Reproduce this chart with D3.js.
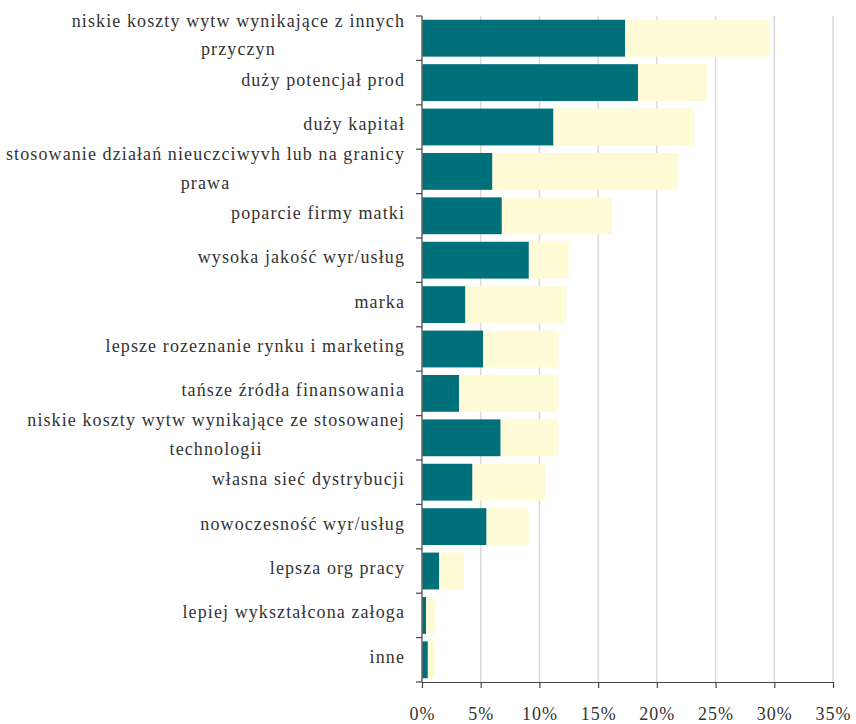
<!DOCTYPE html>
<html>
<head>
<meta charset="utf-8">
<script src="https://cdn.jsdelivr.net/npm/d3@7"></script>
<style>
  body { margin: 0; background: #fff; }
</style>
</head>
<body>
<div id="chart"></div>
<script>
// categories, top to bottom (each entry = lines of the label)
var categories = [
    ["niskie koszty wytw wynikające z innych", "przyczyn"],
    ["duży potencjał prod"],
    ["duży kapitał"],
    ["stosowanie działań nieuczciwyvh lub na granicy", "prawa"],
    ["poparcie firmy matki"],
    ["wysoka jakość wyr/usług"],
    ["marka"],
    ["lepsze rozeznanie rynku i marketing"],
    ["tańsze źródła finansowania"],
    ["niskie koszty wytw wynikające ze stosowanej", "technologii"],
    ["własna sieć dystrybucji"],
    ["nowoczesność wyr/usług"],
    ["lepsza org pracy"],
    ["lepiej wykształcona załoga"],
    ["inne"]
]
var seriesA = [17.3, 18.4, 11.2, 6.0, 6.8, 9.1, 3.7, 5.2, 3.15, 6.7, 4.3, 5.5, 1.45, 0.35, 0.5]
var seriesB = [12.3, 5.9, 12.0, 15.8, 9.4, 3.4, 8.6, 6.4, 8.45, 4.9, 6.2, 3.6, 2.1, 0.75, 0.6]
var xTicks = [0, 5, 10, 15, 20, 25, 30, 35]

var colorA = "#00707b", colorB = "#fffbd7"
var FONT = "'Liberation Serif'"

var margin = { top: 16, right: 23, bottom: 42, left: 422 },
    width = 856 - margin.left - margin.right,
    height = 724 - margin.top - margin.bottom;

var svg = d3.select("#chart").append("svg")
    .attr("width", 856)
    .attr("height", 724)
    .append("g")
    .attr("transform", "translate(" + margin.left + "," + margin.top + ")");

var x = d3.scaleLinear().domain([0, 35]).range([0, width]);
var idx = d3.range(categories.length);
var y = d3.scaleBand().domain(idx).range([0, height])
    .paddingInner(0.17).paddingOuter(0.085);

// gridlines
svg.selectAll(".grid")
    .data(xTicks.slice(1))
    .enter().append("line")
    .attr("x1", d => x(d)).attr("x2", d => x(d))
    .attr("y1", 0).attr("y2", height)
    .attr("stroke", "#dcd7d4")
    .attr("stroke-width", 1.5);

var data = idx.map(i => ({ i: i, a: seriesA[i], b: seriesB[i] }))

svg.selectAll(".barA")
    .data(data).enter().append("rect")
    .attr("x", x(0))
    .attr("y", d => y(d.i))
    .attr("width", d => x(d.a) - x(0))
    .attr("height", y.bandwidth())
    .attr("fill", colorA);

svg.selectAll(".barB")
    .data(data).enter().append("rect")
    .attr("x", d => x(d.a))
    .attr("y", d => y(d.i))
    .attr("width", d => x(d.a + d.b) - x(d.a))
    .attr("height", y.bandwidth())
    .attr("fill", colorB);

// y axis: line + ticks on band boundaries
var step = y.step()
svg.append("line")
    .attr("x1", 0).attr("x2", 0).attr("y1", 0).attr("y2", height)
    .attr("stroke", "#666").attr("stroke-width", 1.5);
svg.selectAll(".ytick")
    .data(d3.range(categories.length + 1))
    .enter().append("line")
    .attr("x1", -6).attr("x2", 0)
    .attr("y1", d => d * step).attr("y2", d => d * step)
    .attr("stroke", "#444").attr("stroke-width", 1.2);

// x axis
var xAxis = svg.append("g")
    .attr("transform", "translate(0," + height + ")")
    .call(d3.axisBottom(x).tickValues(xTicks).tickSize(6).tickSizeOuter(0)
        .tickFormat(d => d + "%"));
xAxis.select(".domain").attr("stroke", "#444").attr("stroke-width", 1.2);
xAxis.selectAll(".tick line").attr("stroke", "#444").attr("stroke-width", 1.2);
xAxis.selectAll(".tick text")
    .attr("y", 38)
    .attr("dy", 0)
    .style("font-family", FONT)
    .style("font-size", "18px")
    .style("letter-spacing", "1px")
    .style("fill", "#333");

// category labels, multi-line ones centred on their widest line
var lineH = 28.5
var labels = svg.selectAll(".lbl")
    .data(idx).enter().append("text")
    .style("font-family", FONT)
    .style("font-size", "18px")
    .style("letter-spacing", "1.1px")
    .style("fill", "#333")
    .attr("text-anchor", "middle");

labels.each(function (i) {
    var t = d3.select(this)
    var lines = categories[i]
    var cy = y(i) + y.bandwidth() / 2 - 3
    lines.forEach((ln, k) => {
        t.append("tspan")
            .attr("y", cy + (k - (lines.length - 1) / 2) * lineH)
            .attr("dy", "0.33em")
            .text(ln)
    })
    var widths = []
    t.selectAll("tspan").each(function () { widths.push(this.getComputedTextLength()) })
    var cx = -17 - d3.max(widths) / 2
    t.selectAll("tspan").attr("x", cx)
});
</script>
</body>
</html>
